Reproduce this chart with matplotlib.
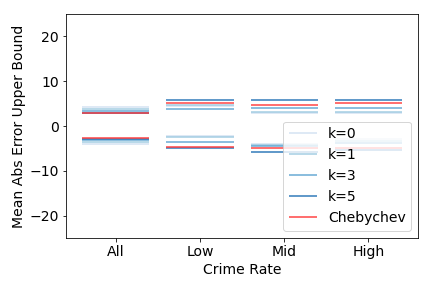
import matplotlib
matplotlib.use("Agg")
import matplotlib.pyplot as plt
import numpy as np

categories = ["All", "Low", "Mid", "High"]
series_labels = ["k=0", "k=1", "k=3", "k=5", "Chebychev"]

upper = {
    "k=0": [4.3, 4.4, 3.0, 3.0],
    "k=1": [3.7, 4.6, 3.2, 3.2],
    "k=3": [3.35, 3.9, 4.1, 4.0],
    "k=5": [3.0, 5.7, 5.8, 5.8],
    "Chebychev": [2.9, 5.2, 4.8, 5.2],
}
lower = {
    "k=0": [-4.1, -2.2, -4.0, -3.0],
    "k=1": [-3.5, -2.4, -4.2, -3.3],
    "k=3": [-3.2, -3.5, -4.4, -3.7],
    "k=5": [-2.9, -5.0, -5.8, -5.4],
    "Chebychev": [-2.7, -4.6, -5.0, -4.9],
}

colors = {
    "k=0": plt.cm.Blues(0.2),
    "k=1": plt.cm.Blues(0.38),
    "k=3": plt.cm.Blues(0.55),
    "k=5": plt.cm.Blues(0.75),
    "Chebychev": "#ff3333",
}

fig = plt.figure(figsize=(6, 4), dpi=72)
ax = fig.add_axes([0.153, 0.174, 0.815, 0.777])

x = np.arange(len(categories))
for lab in series_labels:
    ax.hlines(upper[lab], x - 0.4, x + 0.4, colors=colors[lab], lw=2, alpha=0.7, label=lab)
    ax.hlines(lower[lab], x - 0.4, x + 0.4, colors=colors[lab], lw=2, alpha=0.7)

ax.set_ylim(-25, 25)
ax.set_yticks([-20, -10, 0, 10, 20])
ax.set_xticks(x)
ax.set_xticklabels(categories)
ax.tick_params(labelsize=14)
ax.set_xlabel("Crime Rate", fontsize=14)
ax.set_ylabel("Mean Abs Error Upper Bound", fontsize=14)
ax.legend(loc="lower right", fontsize=14)

fig.savefig("out.png", dpi=72)
